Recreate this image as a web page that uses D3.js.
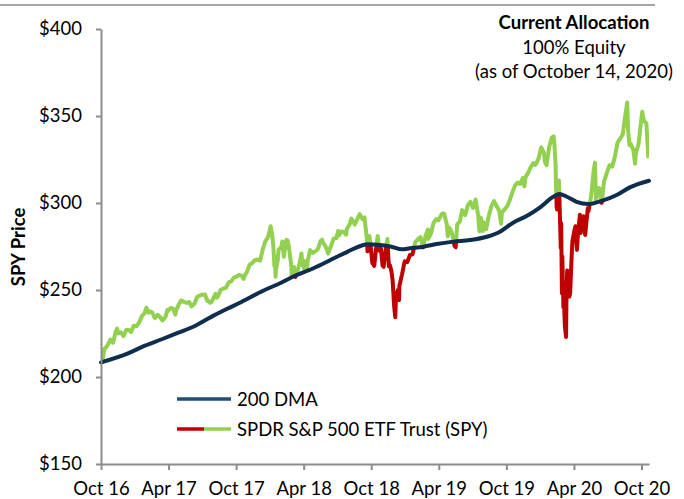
<!DOCTYPE html>
<html>
<head>
<meta charset="utf-8">
<script src="https://cdn.jsdelivr.net/npm/d3@7"></script>
<style>
  body { margin: 0; background: #fff; }
  text { font-family: Lato, "Open Sans", sans-serif; fill: #000; }
</style>
</head>
<body>
<div id="chart"></div>
<script>
// SPY closes (date, price)
var spy = [
  ["2016-10-31",212.6],["2016-11-04",208.6],["2016-11-09",216.4],["2016-11-11",216.4],["2016-11-18",218.5],
  ["2016-11-25",221.5],["2016-12-02",219.7],["2016-12-09",226.0],["2016-12-13",227.8],["2016-12-16",225.0],
  ["2016-12-23",225.7],["2016-12-30",223.5],
  ["2017-01-06",227.0],["2017-01-13",227.0],["2017-01-19",225.9],["2017-01-26",229.4],["2017-02-03",229.3],
  ["2017-02-10",231.5],["2017-02-17",235.0],["2017-02-24",236.7],["2017-03-01",239.8],["2017-03-07",237.0],
  ["2017-03-10",237.7],["2017-03-17",237.0],["2017-03-22",234.3],["2017-03-24",233.9],["2017-03-31",235.7],
  ["2017-04-05",234.8],["2017-04-13",232.5],["2017-04-21",234.6],["2017-04-26",238.6],["2017-04-28",238.1],
  ["2017-05-05",239.7],["2017-05-12",239.0],["2017-05-17",235.8],["2017-05-19",238.0],["2017-05-26",241.7],
  ["2017-06-02",244.0],["2017-06-09",243.2],["2017-06-16",242.6],["2017-06-23",243.1],["2017-06-29",240.6],
  ["2017-07-07",242.1],["2017-07-14",246.0],["2017-07-21",246.8],["2017-07-27",247.3],["2017-08-04",247.4],
  ["2017-08-10",243.8],["2017-08-11",244.1],["2017-08-18",242.7],["2017-08-21",243.0],["2017-08-25",244.6],
  ["2017-09-01",247.8],["2017-09-05",245.6],["2017-09-08",246.6],["2017-09-15",250.1],["2017-09-22",250.9],
  ["2017-09-29",251.2],["2017-10-06",254.4],["2017-10-13",255.0],["2017-10-20",257.1],["2017-10-27",257.7],
  ["2017-11-03",258.7],["2017-11-10",258.1],["2017-11-15",256.4],["2017-11-17",257.9],["2017-11-24",260.4],
  ["2017-12-01",264.5],["2017-12-08",265.5],["2017-12-15",267.1],["2017-12-22",267.5],["2017-12-29",266.9],
  ["2018-01-05",273.4],["2018-01-12",278.1],["2018-01-19",280.4],["2018-01-26",286.6],["2018-01-30",281.8],
  ["2018-02-02",275.5],["2018-02-05",263.9],["2018-02-06",269.1],["2018-02-08",257.6],["2018-02-09",261.5],
  ["2018-02-14",267.0],["2018-02-16",273.1],["2018-02-23",274.7],["2018-02-26",277.9],["2018-03-02",269.1],
  ["2018-03-09",278.9],["2018-03-12",278.5],["2018-03-16",274.2],["2018-03-22",263.7],["2018-03-23",258.1],
  ["2018-03-27",260.8],["2018-03-29",263.2],["2018-04-02",257.5],["2018-04-06",259.7],["2018-04-13",265.2],
  ["2018-04-18",271.0],["2018-04-20",266.6],["2018-04-24",262.6],["2018-04-27",266.6],["2018-05-03",262.6],
  ["2018-05-04",266.0],["2018-05-11",272.9],["2018-05-18",271.3],["2018-05-25",272.2],["2018-06-01",273.6],
  ["2018-06-08",278.2],["2018-06-12",278.9],["2018-06-15",277.1],["2018-06-22",274.7],["2018-06-28",270.9],
  ["2018-07-06",275.4],["2018-07-13",279.6],["2018-07-20",279.7],["2018-07-25",284.0],["2018-07-27",281.4],
  ["2018-08-03",283.6],["2018-08-10",283.2],["2018-08-15",281.8],["2018-08-17",285.1],["2018-08-24",287.5],
  ["2018-08-29",291.0],["2018-08-31",290.3],["2018-09-07",287.6],["2018-09-14",290.9],["2018-09-20",293.6],
  ["2018-09-28",290.7],["2018-10-03",291.7],["2018-10-05",287.8],["2018-10-10",278.0],["2018-10-11",272.2],
  ["2018-10-12",276.0],["2018-10-16",281.0],["2018-10-19",276.3],["2018-10-24",265.3],["2018-10-26",265.3],
  ["2018-10-29",263.9],["2018-11-02",271.9],["2018-11-07",281.0],["2018-11-09",277.8],["2018-11-12",272.6],
  ["2018-11-16",273.7],["2018-11-20",264.1],["2018-11-23",263.3],["2018-11-30",275.7],["2018-12-03",279.3],
  ["2018-12-07",263.6],["2018-12-10",264.1],["2018-12-14",260.5],["2018-12-17",255.4],["2018-12-21",240.7],
  ["2018-12-24",234.3],["2018-12-26",246.2],["2018-12-28",247.8],["2018-12-31",249.9],
  ["2019-01-03",244.2],["2019-01-04",252.4],["2019-01-11",259.0],["2019-01-18",266.5],["2019-01-25",266.0],
  ["2019-02-01",270.1],["2019-02-08",270.5],["2019-02-15",277.4],["2019-02-22",279.1],["2019-03-01",280.4],
  ["2019-03-08",274.5],["2019-03-15",281.3],["2019-03-21",284.7],["2019-03-22",279.3],["2019-03-29",282.5],
  ["2019-04-05",288.6],["2019-04-12",290.7],["2019-04-18",290.0],["2019-04-26",293.4],["2019-04-30",294.0],
  ["2019-05-03",294.0],["2019-05-10",288.1],["2019-05-13",280.9],["2019-05-17",285.8],["2019-05-24",282.8],
  ["2019-05-31",275.3],["2019-06-03",274.6],["2019-06-07",287.7],["2019-06-14",289.3],["2019-06-20",295.9],
  ["2019-06-28",293.0],["2019-07-05",298.5],["2019-07-12",300.7],["2019-07-19",297.2],["2019-07-26",302.0],
  ["2019-08-02",292.6],["2019-08-05",283.8],["2019-08-09",291.6],["2019-08-14",283.9],["2019-08-16",288.9],
  ["2019-08-23",284.9],["2019-08-30",292.5],["2019-09-06",298.1],["2019-09-13",301.1],["2019-09-20",298.3],
  ["2019-09-27",295.4],["2019-10-02",288.1],["2019-10-04",294.4],["2019-10-11",296.3],["2019-10-18",298.0],
  ["2019-10-25",301.6],["2019-11-01",306.1],["2019-11-08",310.0],["2019-11-15",311.8],["2019-11-22",311.0],
  ["2019-11-29",314.3],["2019-12-03",309.6],["2019-12-06",314.9],["2019-12-13",317.3],["2019-12-20",320.7],
  ["2019-12-27",322.9],["2019-12-31",321.9],
  ["2020-01-03",322.4],["2020-01-10",325.7],["2020-01-17",332.0],["2020-01-24",328.8],["2020-01-27",323.5],
  ["2020-01-31",321.7],["2020-02-07",332.2],["2020-02-14",337.6],["2020-02-19",338.3],["2020-02-21",333.5],
  ["2020-02-24",322.4],["2020-02-25",312.7],["2020-02-27",297.5],["2020-02-28",296.3],["2020-03-03",300.2],
  ["2020-03-04",313.0],["2020-03-06",297.5],["2020-03-09",274.2],["2020-03-10",288.4],["2020-03-12",248.1],
  ["2020-03-13",269.3],["2020-03-16",239.9],["2020-03-17",252.8],["2020-03-18",240.0],["2020-03-20",228.8],
  ["2020-03-23",223.0],["2020-03-24",243.2],["2020-03-26",261.2],["2020-03-27",253.4],["2020-03-31",257.8],
  ["2020-04-01",246.2],["2020-04-03",248.2],["2020-04-06",264.9],["2020-04-09",278.2],["2020-04-14",283.8],
  ["2020-04-17",286.6],["2020-04-21",273.0],["2020-04-24",283.0],["2020-04-29",293.2],["2020-05-01",282.8],
  ["2020-05-08",292.4],["2020-05-13",281.6],["2020-05-15",286.3],["2020-05-20",297.0],["2020-05-22",295.4],
  ["2020-05-29",304.3],["2020-06-05",319.3],["2020-06-08",323.2],["2020-06-11",300.6],["2020-06-12",304.2],
  ["2020-06-19",308.6],["2020-06-26",300.1],["2020-07-02",312.2],["2020-07-10",317.6],["2020-07-17",321.7],
  ["2020-07-24",320.9],["2020-07-31",326.5],["2020-08-07",334.6],["2020-08-14",336.8],["2020-08-21",339.5],
  ["2020-08-28",350.6],["2020-09-02",357.7],["2020-09-04",342.6],["2020-09-08",333.2],["2020-09-11",334.1],
  ["2020-09-18",330.7],["2020-09-23",322.6],["2020-09-25",328.7],["2020-10-02",333.8],["2020-10-09",346.9],
  ["2020-10-12",352.4],["2020-10-16",347.3],["2020-10-23",345.8],["2020-10-28",326.7],["2020-10-30",326.5]
];

// 200 day moving average
var dma = [
  ["2016-10-31",208.4],["2017-01-11",213.6],["2017-02-25",218.0],["2017-04-11",221.7],["2017-05-25",225.5],
  ["2017-07-08",229.3],["2017-08-22",234.7],["2017-10-05",239.5],["2017-11-05",242.7],["2017-11-23",244.7],
  ["2018-01-06",249.6],["2018-02-20",253.9],["2018-04-05",258.6],["2018-05-20",262.5],["2018-07-03",267.1],
  ["2018-08-17",271.8],["2018-09-30",275.9],["2018-10-09",276.3],["2018-11-13",275.9],["2018-12-14",274.9],
  ["2019-01-10",273.4],["2019-02-01",274.0],["2019-03-09",274.9],["2019-04-13",276.4],["2019-05-28",277.8],
  ["2019-07-11",278.7],["2019-08-25",280.6],["2019-09-29",283.5],["2019-11-03",288.7],["2019-12-09",292.5],
  ["2020-01-14",297.5],["2020-02-18",303.6],["2020-03-05",305.2],["2020-03-25",303.6],["2020-04-20",300.7],
  ["2020-05-21",299.4],["2020-06-26",301.2],["2020-08-05",304.6],["2020-09-09",309.0],["2020-10-30",312.8]
];

var tickDates = ["2016-10-31","2017-04-29","2017-10-26","2018-04-24","2018-10-21",
                 "2019-04-19","2019-10-16","2020-04-13","2020-10-10"];
var yTicks = [150, 200, 250, 300, 350, 400];
var legendLabels = ["200 DMA", "SPDR S&P 500 ETF Trust (SPY)"];
var noteLines = ["Current Allocation", "100% Equity", "(as of October 14, 2020)"];

var width = 684, height = 499;
var parse = d3.timeParse("%Y-%m-%d");

var svg = d3.select("#chart").append("svg")
    .attr("width", width).attr("height", height);

var x = d3.scaleTime()
    .domain([parse("2016-10-31"), parse("2020-10-30")])
    .range([101, 649]);

var y = d3.scaleLinear()
    .domain([150, 400])
    .range([464, 29]);

// thin grey rule along the top
svg.append("line")
    .attr("x1", 0).attr("x2", 655).attr("y1", 5).attr("y2", 5)
    .style("stroke", "#a6a6a6").style("stroke-width", 2);

var dmaLine = d3.line()
    .x(d => x(parse(d[0])))
    .y(d => y(d[1]))
    .curve(d3.curveMonotoneX);

var spyLine = d3.line()
    .x(d => x(parse(d[0])))
    .y(d => y(d[1]));

// clip regions above / below the moving average
var defs = svg.append("defs");
defs.append("clipPath").attr("id", "above")
  .append("path")
    .attr("d", d3.area().x(d => x(parse(d[0]))).y0(0).y1(d => y(d[1])).curve(d3.curveMonotoneX)(dma));
defs.append("clipPath").attr("id", "below")
  .append("path")
    .attr("d", d3.area().x(d => x(parse(d[0]))).y0(height).y1(d => y(d[1])).curve(d3.curveMonotoneX)(dma));

svg.append("path")
    .datum(spy)
    .attr("clip-path", "url(#above)")
    .attr("d", spyLine)
    .style("fill", "none").style("stroke", "#92d050")
    .style("stroke-width", 4).style("stroke-linejoin", "round");

svg.append("path")
    .datum(spy)
    .attr("clip-path", "url(#below)")
    .attr("d", spyLine)
    .style("fill", "none").style("stroke", "#c00000")
    .style("stroke-width", 4).style("stroke-linejoin", "round");

svg.append("path")
    .datum(dma)
    .attr("d", dmaLine)
    .style("fill", "none").style("stroke", "#0f2d4f")
    .style("stroke-width", 4).style("stroke-linecap", "round");

// axes
var xAxis = svg.append("g")
    .attr("transform", "translate(0,464)")
    .call(d3.axisBottom(x)
        .tickValues(tickDates.map(parse))
        .tickFormat(d3.timeFormat("%b %y"))
        .tickSize(6).tickSizeOuter(0));
xAxis.selectAll("text").attr("y", 31).attr("dy", 0);

var yAxis = svg.append("g")
    .attr("transform", "translate(101,0)")
    .call(d3.axisLeft(y)
        .tickValues(yTicks)
        .tickFormat(d => "$" + d)
        .tickSize(5).tickSizeOuter(0).tickPadding(14));

svg.selectAll(".domain, .tick line")
    .style("stroke", "#8c8c8c").style("stroke-width", 2);
svg.selectAll(".tick text")
    .style("font-size", "18.5px").style("fill", "#000")
    .style("font-family", "Lato, sans-serif");

svg.append("text")
    .attr("transform", "translate(25,247) rotate(-90)")
    .attr("text-anchor", "middle")
    .style("font-size", "18.5px").style("font-weight", "bold")
    .text("SPY Price");

// legend
var leg = svg.append("g");
leg.append("line")
    .attr("x1", 177).attr("x2", 231).attr("y1", 399).attr("y2", 399)
    .style("stroke", "#1f4e79").style("stroke-width", 3.5);
leg.append("line")
    .attr("x1", 177).attr("x2", 204).attr("y1", 429).attr("y2", 429)
    .style("stroke", "#c00000").style("stroke-width", 3.5);
leg.append("line")
    .attr("x1", 204).attr("x2", 231).attr("y1", 429).attr("y2", 429)
    .style("stroke", "#92d050").style("stroke-width", 3.5);
leg.selectAll("text")
    .data(legendLabels)
  .enter().append("text")
    .attr("x", 237)
    .attr("y", (d, i) => 405.5 + i * 30)
    .style("font-size", "18.5px")
    .text(d => d);

// allocation note
svg.selectAll(".note")
    .data(noteLines)
  .enter().append("text")
    .attr("class", "note")
    .attr("x", 574)
    .attr("y", (d, i) => 29 + i * 24.5)
    .attr("text-anchor", "middle")
    .style("font-size", "18.5px")
    .style("font-weight", (d, i) => i === 0 ? "bold" : "normal")
    .text(d => d);
</script>
</body>
</html>
